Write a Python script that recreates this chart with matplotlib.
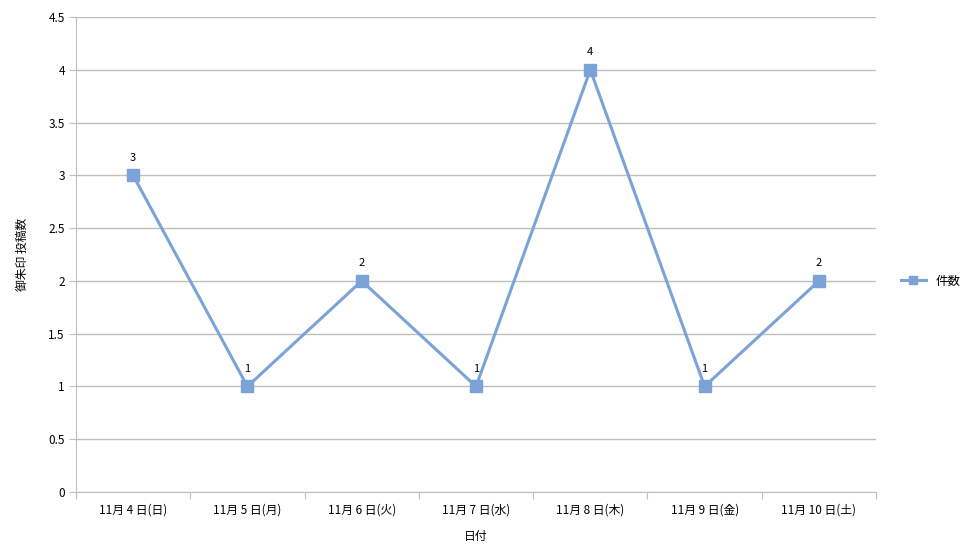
import matplotlib
matplotlib.use("Agg")
import matplotlib.pyplot as plt
import numpy as np

plt.rcParams['font.family'] = ['Noto Sans CJK JP', 'DejaVu Sans']

dates = ["11月 4 日(日)", "11月 5 日(月)", "11月 6 日(火)", "11月 7 日(水)",
         "11月 8 日(木)", "11月 9 日(金)", "11月 10 日(土)"]
counts = [3, 1, 2, 1, 4, 1, 2]

line_color = "#7BA3D8"
grid_color = "#BFBFBF"

fig = plt.figure(figsize=(9.64, 5.52), dpi=100)
ax = fig.add_axes([0.0788, 0.1087, 0.83, 0.8605])

x = np.arange(len(dates))
ax.plot(x, counts, color=line_color, linewidth=2.2, marker="s",
        markersize=8, markerfacecolor=line_color, markeredgecolor=line_color,
        label="件数", zorder=3)

for xi, v in zip(x, counts):
    ax.annotate(str(v), (xi, v), xytext=(0, 9), textcoords="offset points",
                ha="center", va="bottom", fontsize=8, color="#000000")

ax.set_xlim(-0.5, len(dates) - 0.5)
ax.set_ylim(0, 4.5)
ax.set_yticks(np.arange(0, 4.51, 0.5))
ax.set_yticklabels([f"{v:g}" for v in np.arange(0, 4.51, 0.5)], fontsize=8.5)

# category labels at centers, tick marks at boundaries
ax.set_xticks(np.arange(-0.5, len(dates), 1.0))
ax.set_xticklabels([])
ax.set_xticks(x, minor=True)
ax.set_xticklabels(dates, minor=True, fontsize=8.5)
ax.tick_params(axis="x", which="minor", length=0, pad=8)
ax.tick_params(axis="x", which="major", length=5, color=grid_color, direction="out")
ax.tick_params(axis="y", length=5, color=grid_color, direction="out", pad=3)

ax.yaxis.grid(True, color=grid_color, linewidth=1)
ax.set_axisbelow(True)
for side in ["top", "right"]:
    ax.spines[side].set_visible(False)
ax.spines["left"].set_color(grid_color)
ax.spines["bottom"].set_color(grid_color)

ax.set_xlabel("日付", fontsize=8.5, labelpad=10)
ax.set_ylabel("御朱印 投稿数", fontsize=8.5, labelpad=14)

ax.legend(loc="center left", bbox_to_anchor=(1.017, 0.444), frameon=False,
          fontsize=9, handlelength=2.0, markerscale=0.75)

fig.savefig("out.png", dpi=100)
